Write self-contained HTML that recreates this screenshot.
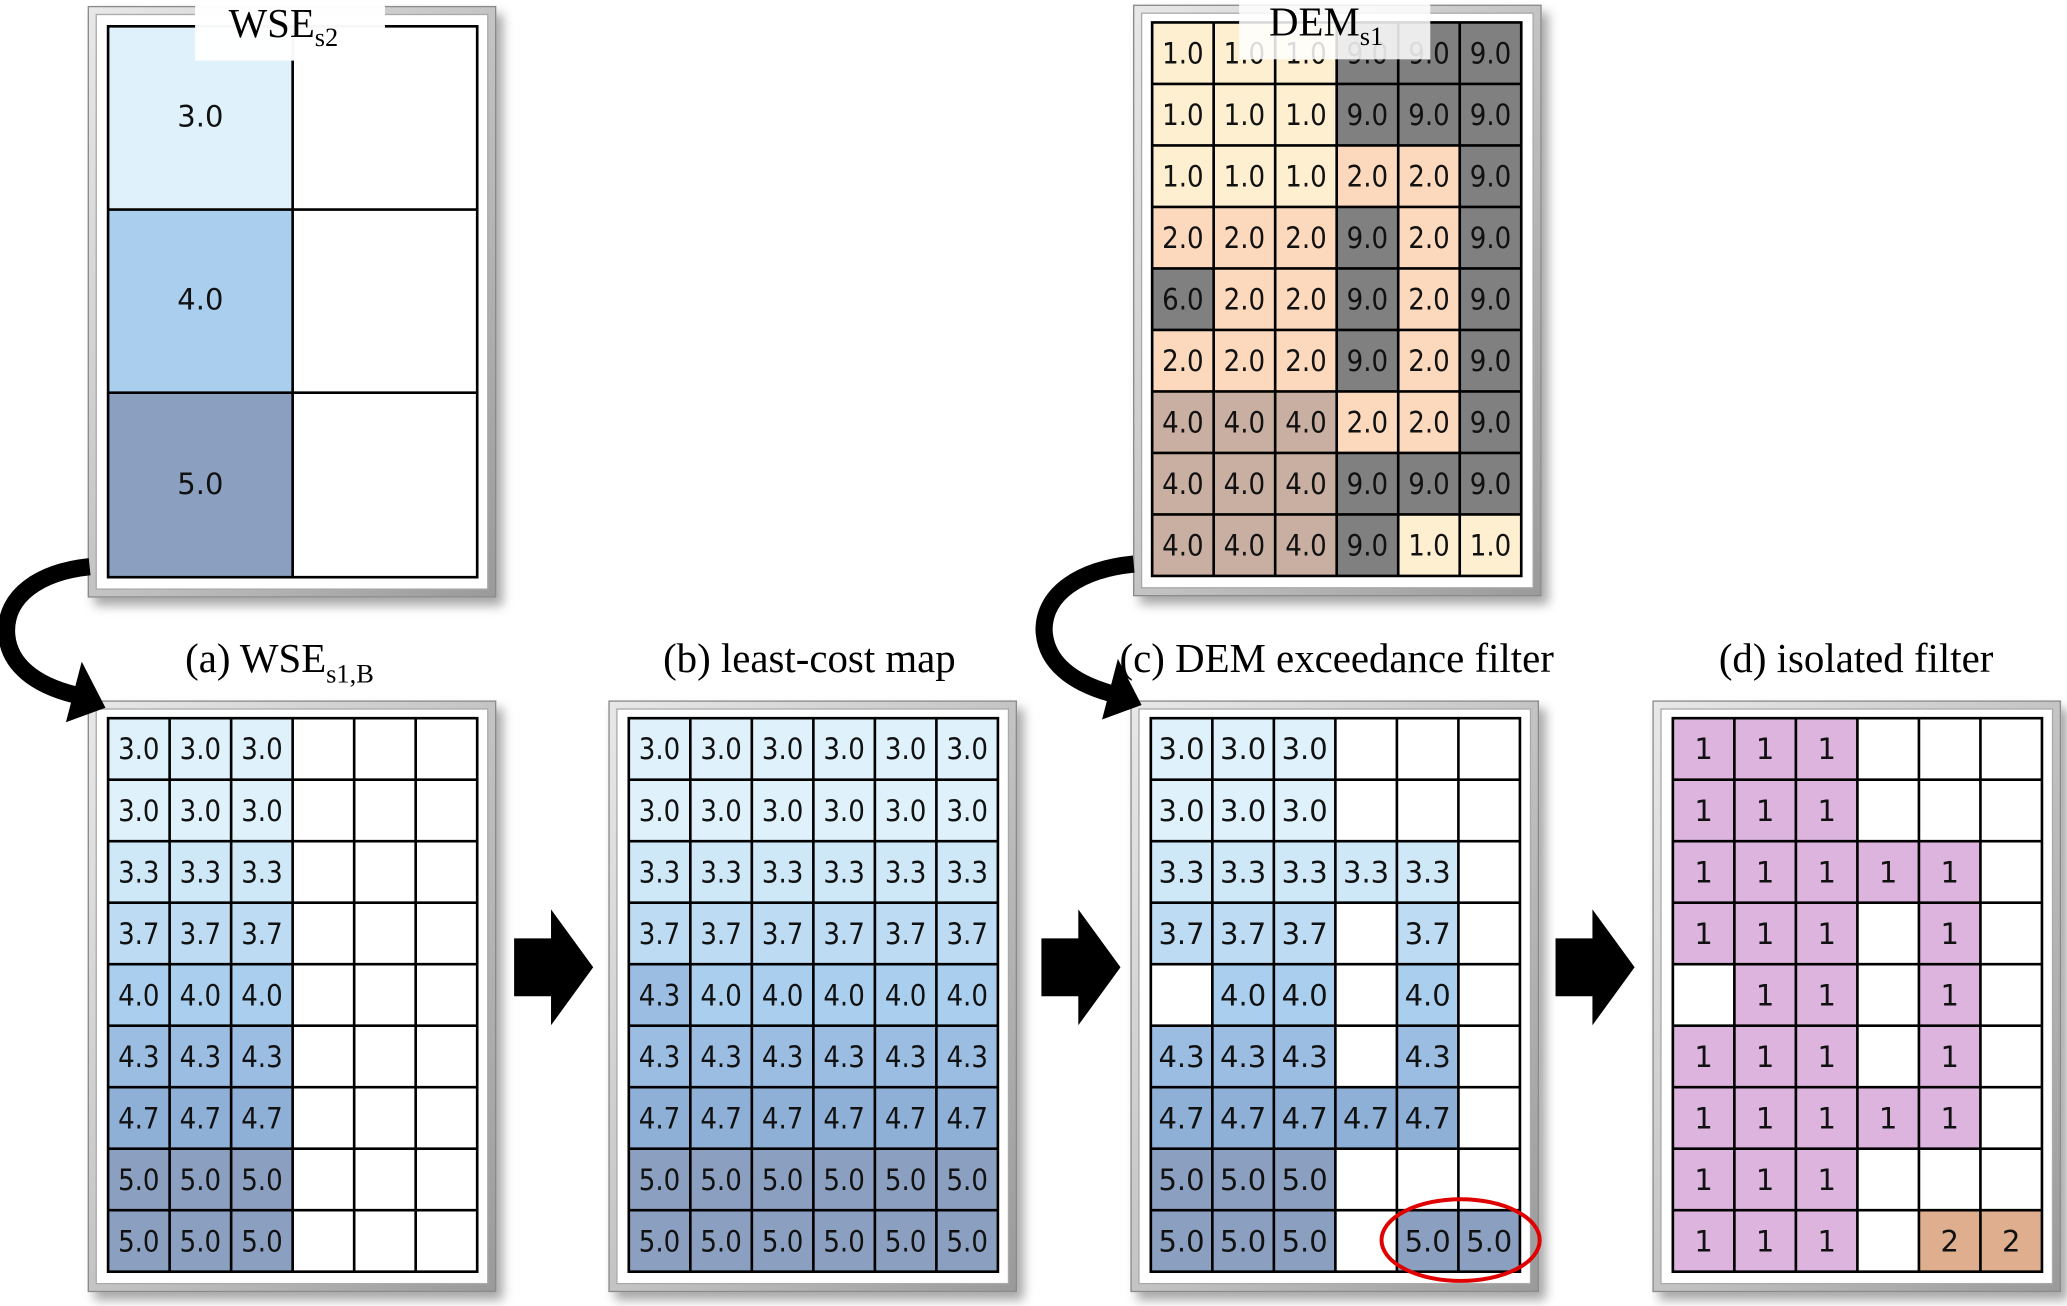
<!DOCTYPE html>
<html><head><meta charset="utf-8"><style>
html,body{margin:0;padding:0;background:#fff;width:2067px;height:1306px;overflow:hidden}
svg{display:block}
.t{font-family:"DejaVu Sans Condensed","DejaVu Sans","Liberation Sans",sans-serif;font-size:22px;text-anchor:middle;fill:#111}
.n{font-family:"DejaVu Sans","Liberation Sans",sans-serif;font-size:22px;text-anchor:middle;fill:#111}
.ti{font-family:"Liberation Serif",serif;font-size:31px;text-anchor:middle;fill:#000}
.c30{fill:#dff2fc}.c33{fill:#cfe8f8}.c37{fill:#bddcf3}.c40{fill:#aacfee}.c43{fill:#9cbde2}.c47{fill:#8eafd6}.c50{fill:#8ba0c0}
.d1{fill:#fdefd0}.d2{fill:#fcd9bd}.d4{fill:#c9afa1}.d9{fill:#808080}
.p{fill:#dcb4de}.o{fill:#deae8f}
</style></head><body>
<svg width="2067" height="1306" viewBox="0 0 1568 991" preserveAspectRatio="none" xmlns="http://www.w3.org/2000/svg">
<defs>
<filter id="sh" x="-10%" y="-10%" width="125%" height="125%"><feDropShadow dx="5" dy="6" stdDeviation="4" flood-color="#000" flood-opacity="0.35"/></filter>
<linearGradient id="bv" x1="0" y1="0" x2="1" y2="1"><stop offset="0" stop-color="#e8e8e8"/><stop offset="0.5" stop-color="#c4c4c4"/><stop offset="1" stop-color="#9a9a9a"/></linearGradient>
<g id="fr"><rect x="0" y="0" width="309" height="448" fill="url(#bv)" stroke="#8a8a8a" stroke-width="1" filter="url(#sh)"/><rect x="6" y="6" width="297" height="436" fill="#fff" stroke="#aaa" stroke-width="1"/></g>
<path id="gl" d="M0 0H280V420H0Z M46.67 0V420 M93.33 0V420 M140 0V420 M186.67 0V420 M233.33 0V420 M0 46.67H280 M0 93.33H280 M0 140H280 M0 186.67H280 M0 233.33H280 M0 280H280 M0 326.67H280 M0 373.33H280" fill="none" stroke="#000" stroke-width="2"/>
</defs>

<!-- frames -->
<use href="#fr" x="67" y="5"/>
<use href="#fr" x="860" y="4"/>
<use href="#fr" x="67" y="532"/>
<use href="#fr" x="462" y="532"/>
<use href="#fr" x="858" y="532"/>
<use href="#fr" x="1254" y="532"/>

<!-- WSE s2 -->
<g transform="translate(82,20)">
<rect x="0" y="0" width="140" height="139" class="c30"/>
<rect x="0" y="139" width="140" height="139" class="c40"/>
<rect x="0" y="278" width="140" height="140" class="c50"/>
<path d="M0 0H280V418H0Z M140 0V418 M0 139H280 M0 278H280" fill="none" stroke="#000" stroke-width="2"/>
<text class="n" x="70" y="76">3.0</text>
<text class="n" x="70" y="215">4.0</text>
<text class="n" x="70" y="355">5.0</text>
</g>
<rect x="148" y="0" width="144" height="46" fill="#fff" opacity="0.97"/>
<text class="ti" x="215" y="28">WSE<tspan font-size="20" dy="7">s2</tspan></text>

<!-- DEM s1 -->
<g transform="translate(874,17)">
<g>
<rect class="d1" x="0" y="0" width="140" height="46.67"/><rect class="d9" x="140" y="0" width="140" height="46.67"/>
<rect class="d1" x="0" y="46.67" width="140" height="46.67"/><rect class="d9" x="140" y="46.67" width="140" height="46.67"/>
<rect class="d1" x="0" y="93.33" width="140" height="46.67"/><rect class="d2" x="140" y="93.33" width="93.33" height="46.67"/><rect class="d9" x="233.33" y="93.33" width="46.67" height="46.67"/>
<rect class="d2" x="0" y="140" width="140" height="46.67"/><rect class="d9" x="140" y="140" width="46.67" height="46.67"/><rect class="d2" x="186.67" y="140" width="46.67" height="46.67"/><rect class="d9" x="233.33" y="140" width="46.67" height="46.67"/>
<rect class="d9" x="0" y="186.67" width="46.67" height="46.67"/><rect class="d2" x="46.67" y="186.67" width="93.33" height="46.67"/><rect class="d9" x="140" y="186.67" width="46.67" height="46.67"/><rect class="d2" x="186.67" y="186.67" width="46.67" height="46.67"/><rect class="d9" x="233.33" y="186.67" width="46.67" height="46.67"/>
<rect class="d2" x="0" y="233.33" width="140" height="46.67"/><rect class="d9" x="140" y="233.33" width="46.67" height="46.67"/><rect class="d2" x="186.67" y="233.33" width="46.67" height="46.67"/><rect class="d9" x="233.33" y="233.33" width="46.67" height="46.67"/>
<rect class="d4" x="0" y="280" width="140" height="46.67"/><rect class="d2" x="140" y="280" width="93.33" height="46.67"/><rect class="d9" x="233.33" y="280" width="46.67" height="46.67"/>
<rect class="d4" x="0" y="326.67" width="140" height="46.67"/><rect class="d9" x="140" y="326.67" width="140" height="46.67"/>
<rect class="d4" x="0" y="373.33" width="140" height="46.67"/><rect class="d9" x="140" y="373.33" width="46.67" height="46.67"/><rect class="d1" x="186.67" y="373.33" width="93.33" height="46.67"/>
</g>
<use href="#gl"/>
<g class="t">
<text x="23.3" y="31">1.0</text><text x="70" y="31">1.0</text><text x="116.7" y="31">1.0</text><text x="163.3" y="31">9.0</text><text x="210" y="31">9.0</text><text x="256.7" y="31">9.0</text>
<text x="23.3" y="78">1.0</text><text x="70" y="78">1.0</text><text x="116.7" y="78">1.0</text><text x="163.3" y="78">9.0</text><text x="210" y="78">9.0</text><text x="256.7" y="78">9.0</text>
<text x="23.3" y="124.7">1.0</text><text x="70" y="124.7">1.0</text><text x="116.7" y="124.7">1.0</text><text x="163.3" y="124.7">2.0</text><text x="210" y="124.7">2.0</text><text x="256.7" y="124.7">9.0</text>
<text x="23.3" y="171.3">2.0</text><text x="70" y="171.3">2.0</text><text x="116.7" y="171.3">2.0</text><text x="163.3" y="171.3">9.0</text><text x="210" y="171.3">2.0</text><text x="256.7" y="171.3">9.0</text>
<text x="23.3" y="218">6.0</text><text x="70" y="218">2.0</text><text x="116.7" y="218">2.0</text><text x="163.3" y="218">9.0</text><text x="210" y="218">2.0</text><text x="256.7" y="218">9.0</text>
<text x="23.3" y="264.7">2.0</text><text x="70" y="264.7">2.0</text><text x="116.7" y="264.7">2.0</text><text x="163.3" y="264.7">9.0</text><text x="210" y="264.7">2.0</text><text x="256.7" y="264.7">9.0</text>
<text x="23.3" y="311.3">4.0</text><text x="70" y="311.3">4.0</text><text x="116.7" y="311.3">4.0</text><text x="163.3" y="311.3">2.0</text><text x="210" y="311.3">2.0</text><text x="256.7" y="311.3">9.0</text>
<text x="23.3" y="358">4.0</text><text x="70" y="358">4.0</text><text x="116.7" y="358">4.0</text><text x="163.3" y="358">9.0</text><text x="210" y="358">9.0</text><text x="256.7" y="358">9.0</text>
<text x="23.3" y="404.7">4.0</text><text x="70" y="404.7">4.0</text><text x="116.7" y="404.7">4.0</text><text x="163.3" y="404.7">9.0</text><text x="210" y="404.7">1.0</text><text x="256.7" y="404.7">1.0</text>
</g>
</g>
<rect x="940" y="0" width="145" height="45" fill="#fff" opacity="0.85"/>
<text class="ti" x="1006" y="27">DEM<tspan font-size="20" dy="7">s1</tspan></text>

<!-- titles -->
<text class="ti" x="212" y="510">(a) WSE<tspan font-size="20" dy="8">s1,B</tspan></text>
<text class="ti" x="614" y="510">(b) least-cost map</text>
<text class="ti" x="1014" y="510">(c) DEM exceedance filter</text>
<text class="ti" x="1408" y="510">(d) isolated filter</text>

<!-- (a) -->
<g transform="translate(82,545)">
<rect class="c30" x="0" y="0" width="140" height="46.67"/>
<rect class="c30" x="0" y="46.67" width="140" height="46.67"/>
<rect class="c33" x="0" y="93.33" width="140" height="46.67"/>
<rect class="c37" x="0" y="140" width="140" height="46.67"/>
<rect class="c40" x="0" y="186.67" width="140" height="46.67"/>
<rect class="c43" x="0" y="233.33" width="140" height="46.67"/>
<rect class="c47" x="0" y="280" width="140" height="46.67"/>
<rect class="c50" x="0" y="326.67" width="140" height="46.67"/>
<rect class="c50" x="0" y="373.33" width="140" height="46.67"/>
<use href="#gl"/>
<g class="t">
<text x="23.3" y="31">3.0</text><text x="70" y="31">3.0</text><text x="116.7" y="31">3.0</text>
<text x="23.3" y="78">3.0</text><text x="70" y="78">3.0</text><text x="116.7" y="78">3.0</text>
<text x="23.3" y="124.7">3.3</text><text x="70" y="124.7">3.3</text><text x="116.7" y="124.7">3.3</text>
<text x="23.3" y="171.3">3.7</text><text x="70" y="171.3">3.7</text><text x="116.7" y="171.3">3.7</text>
<text x="23.3" y="218">4.0</text><text x="70" y="218">4.0</text><text x="116.7" y="218">4.0</text>
<text x="23.3" y="264.7">4.3</text><text x="70" y="264.7">4.3</text><text x="116.7" y="264.7">4.3</text>
<text x="23.3" y="311.3">4.7</text><text x="70" y="311.3">4.7</text><text x="116.7" y="311.3">4.7</text>
<text x="23.3" y="358">5.0</text><text x="70" y="358">5.0</text><text x="116.7" y="358">5.0</text>
<text x="23.3" y="404.7">5.0</text><text x="70" y="404.7">5.0</text><text x="116.7" y="404.7">5.0</text>
</g>
</g>

<!-- (b) -->
<g transform="translate(477,545)">
<rect class="c30" x="0" y="0" width="280" height="46.67"/>
<rect class="c30" x="0" y="46.67" width="280" height="46.67"/>
<rect class="c33" x="0" y="93.33" width="280" height="46.67"/>
<rect class="c37" x="0" y="140" width="280" height="46.67"/>
<rect class="c40" x="0" y="186.67" width="280" height="46.67"/>
<rect class="c43" x="0" y="186.67" width="46.67" height="46.67"/>
<rect class="c43" x="0" y="233.33" width="280" height="46.67"/>
<rect class="c47" x="0" y="280" width="280" height="46.67"/>
<rect class="c50" x="0" y="326.67" width="280" height="46.67"/>
<rect class="c50" x="0" y="373.33" width="280" height="46.67"/>
<use href="#gl"/>
<g class="t">
<text x="23.3" y="31">3.0</text><text x="70" y="31">3.0</text><text x="116.7" y="31">3.0</text><text x="163.3" y="31">3.0</text><text x="210" y="31">3.0</text><text x="256.7" y="31">3.0</text>
<text x="23.3" y="78">3.0</text><text x="70" y="78">3.0</text><text x="116.7" y="78">3.0</text><text x="163.3" y="78">3.0</text><text x="210" y="78">3.0</text><text x="256.7" y="78">3.0</text>
<text x="23.3" y="124.7">3.3</text><text x="70" y="124.7">3.3</text><text x="116.7" y="124.7">3.3</text><text x="163.3" y="124.7">3.3</text><text x="210" y="124.7">3.3</text><text x="256.7" y="124.7">3.3</text>
<text x="23.3" y="171.3">3.7</text><text x="70" y="171.3">3.7</text><text x="116.7" y="171.3">3.7</text><text x="163.3" y="171.3">3.7</text><text x="210" y="171.3">3.7</text><text x="256.7" y="171.3">3.7</text>
<text x="23.3" y="218">4.3</text><text x="70" y="218">4.0</text><text x="116.7" y="218">4.0</text><text x="163.3" y="218">4.0</text><text x="210" y="218">4.0</text><text x="256.7" y="218">4.0</text>
<text x="23.3" y="264.7">4.3</text><text x="70" y="264.7">4.3</text><text x="116.7" y="264.7">4.3</text><text x="163.3" y="264.7">4.3</text><text x="210" y="264.7">4.3</text><text x="256.7" y="264.7">4.3</text>
<text x="23.3" y="311.3">4.7</text><text x="70" y="311.3">4.7</text><text x="116.7" y="311.3">4.7</text><text x="163.3" y="311.3">4.7</text><text x="210" y="311.3">4.7</text><text x="256.7" y="311.3">4.7</text>
<text x="23.3" y="358">5.0</text><text x="70" y="358">5.0</text><text x="116.7" y="358">5.0</text><text x="163.3" y="358">5.0</text><text x="210" y="358">5.0</text><text x="256.7" y="358">5.0</text>
<text x="23.3" y="404.7">5.0</text><text x="70" y="404.7">5.0</text><text x="116.7" y="404.7">5.0</text><text x="163.3" y="404.7">5.0</text><text x="210" y="404.7">5.0</text><text x="256.7" y="404.7">5.0</text>
</g>
</g>

<!-- (c) -->
<g transform="translate(873,545)">
<rect class="c30" x="0" y="0" width="140" height="46.67"/>
<rect class="c30" x="0" y="46.67" width="140" height="46.67"/>
<rect class="c33" x="0" y="93.33" width="233.33" height="46.67"/>
<rect class="c37" x="0" y="140" width="140" height="46.67"/><rect class="c37" x="186.67" y="140" width="46.67" height="46.67"/>
<rect class="c40" x="46.67" y="186.67" width="93.33" height="46.67"/><rect class="c40" x="186.67" y="186.67" width="46.67" height="46.67"/>
<rect class="c43" x="0" y="233.33" width="140" height="46.67"/><rect class="c43" x="186.67" y="233.33" width="46.67" height="46.67"/>
<rect class="c47" x="0" y="280" width="233.33" height="46.67"/>
<rect class="c50" x="0" y="326.67" width="140" height="46.67"/>
<rect class="c50" x="0" y="373.33" width="140" height="46.67"/><rect class="c50" x="186.67" y="373.33" width="93.33" height="46.67"/>
<use href="#gl"/>
<g class="n">
<text x="23.3" y="31">3.0</text><text x="70" y="31">3.0</text><text x="116.7" y="31">3.0</text>
<text x="23.3" y="78">3.0</text><text x="70" y="78">3.0</text><text x="116.7" y="78">3.0</text>
<text x="23.3" y="124.7">3.3</text><text x="70" y="124.7">3.3</text><text x="116.7" y="124.7">3.3</text><text x="163.3" y="124.7">3.3</text><text x="210" y="124.7">3.3</text>
<text x="23.3" y="171.3">3.7</text><text x="70" y="171.3">3.7</text><text x="116.7" y="171.3">3.7</text><text x="210" y="171.3">3.7</text>
<text x="70" y="218">4.0</text><text x="116.7" y="218">4.0</text><text x="210" y="218">4.0</text>
<text x="23.3" y="264.7">4.3</text><text x="70" y="264.7">4.3</text><text x="116.7" y="264.7">4.3</text><text x="210" y="264.7">4.3</text>
<text x="23.3" y="311.3">4.7</text><text x="70" y="311.3">4.7</text><text x="116.7" y="311.3">4.7</text><text x="163.3" y="311.3">4.7</text><text x="210" y="311.3">4.7</text>
<text x="23.3" y="358">5.0</text><text x="70" y="358">5.0</text><text x="116.7" y="358">5.0</text>
<text x="23.3" y="404.7">5.0</text><text x="70" y="404.7">5.0</text><text x="116.7" y="404.7">5.0</text><text x="210" y="404.7">5.0</text><text x="256.7" y="404.7">5.0</text>
</g>
</g>
<ellipse cx="1108" cy="941" rx="60" ry="31" fill="none" stroke="#e00000" stroke-width="3"/>

<!-- (d) -->
<g transform="translate(1269,545)">
<rect class="p" x="0" y="0" width="140" height="46.67"/>
<rect class="p" x="0" y="46.67" width="140" height="46.67"/>
<rect class="p" x="0" y="93.33" width="233.33" height="46.67"/>
<rect class="p" x="0" y="140" width="140" height="46.67"/><rect class="p" x="186.67" y="140" width="46.67" height="46.67"/>
<rect class="p" x="46.67" y="186.67" width="93.33" height="46.67"/><rect class="p" x="186.67" y="186.67" width="46.67" height="46.67"/>
<rect class="p" x="0" y="233.33" width="140" height="46.67"/><rect class="p" x="186.67" y="233.33" width="46.67" height="46.67"/>
<rect class="p" x="0" y="280" width="233.33" height="46.67"/>
<rect class="p" x="0" y="326.67" width="140" height="46.67"/>
<rect class="p" x="0" y="373.33" width="140" height="46.67"/><rect class="o" x="186.67" y="373.33" width="93.33" height="46.67"/>
<use href="#gl"/>
<g class="n">
<text x="23.3" y="31">1</text><text x="70" y="31">1</text><text x="116.7" y="31">1</text>
<text x="23.3" y="78">1</text><text x="70" y="78">1</text><text x="116.7" y="78">1</text>
<text x="23.3" y="124.7">1</text><text x="70" y="124.7">1</text><text x="116.7" y="124.7">1</text><text x="163.3" y="124.7">1</text><text x="210" y="124.7">1</text>
<text x="23.3" y="171.3">1</text><text x="70" y="171.3">1</text><text x="116.7" y="171.3">1</text><text x="210" y="171.3">1</text>
<text x="70" y="218">1</text><text x="116.7" y="218">1</text><text x="210" y="218">1</text>
<text x="23.3" y="264.7">1</text><text x="70" y="264.7">1</text><text x="116.7" y="264.7">1</text><text x="210" y="264.7">1</text>
<text x="23.3" y="311.3">1</text><text x="70" y="311.3">1</text><text x="116.7" y="311.3">1</text><text x="163.3" y="311.3">1</text><text x="210" y="311.3">1</text>
<text x="23.3" y="358">1</text><text x="70" y="358">1</text><text x="116.7" y="358">1</text>
<text x="23.3" y="404.7">1</text><text x="70" y="404.7">1</text><text x="116.7" y="404.7">1</text><text x="210" y="404.7">2</text><text x="256.7" y="404.7">2</text>
</g>
</g>

<!-- block arrows -->
<g fill="#000">
<polygon points="390,712 418,712 418,690 450,734 418,778 418,756 390,756"/>
<polygon points="790,712 818,712 818,690 850,734 818,778 818,756 790,756"/>
<polygon points="1180,712 1208,712 1208,690 1240,734 1208,778 1208,756 1180,756"/>
</g>

<!-- curved arrows -->
<g fill="none" stroke="#000" stroke-width="13">
<path d="M68 430 C30 434 4 452 5 480 C6 505 28 520 56 527"/>
<path d="M860 428 C820 432 792 450 792 478 C793 503 814 518 842 526"/>
</g>
<polygon points="80,537 50,548 62,502" fill="#000"/>
<polygon points="866,535 836,546 848,500" fill="#000"/>
</svg>
</body></html>
